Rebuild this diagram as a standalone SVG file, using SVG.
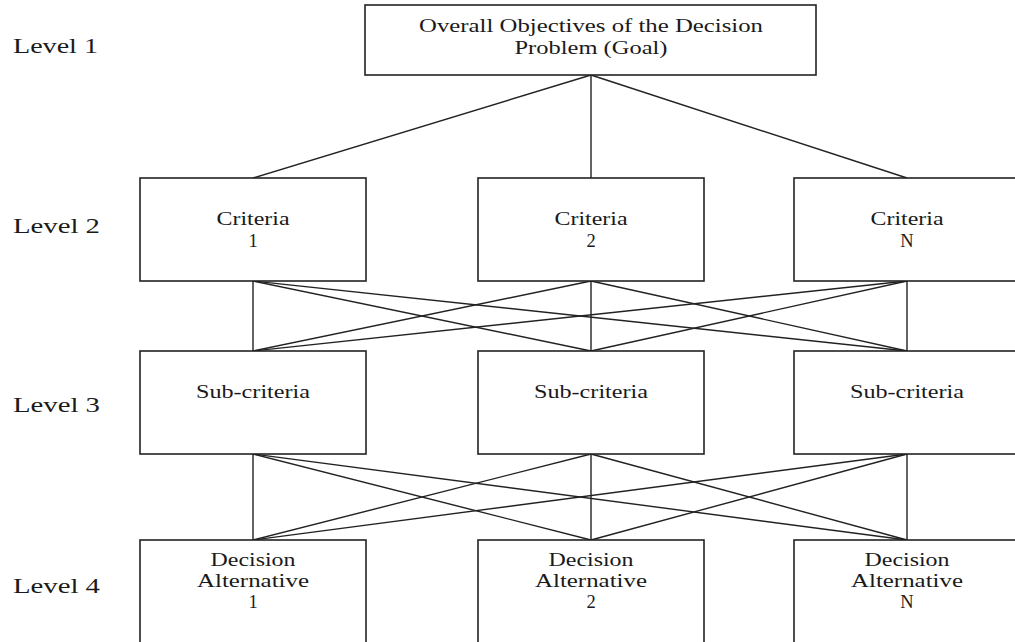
<svg xmlns="http://www.w3.org/2000/svg" width="1015" height="642" viewBox="0 0 1015 642">
<style>
.box{fill:#fff;stroke:#222;stroke-width:1.6}
.c line{stroke:#222;stroke-width:1.4}
text{font-family:"Liberation Serif","Times New Roman",serif;fill:#1a1a1a}
.n{font-size:18.5px;text-anchor:middle}
.lv{font-size:22px}
</style>
<rect width="1015" height="642" fill="#fff"/>
<g class="c" id="connectors">
<line x1="591" y1="75" x2="253" y2="178"/>
<line x1="591" y1="75" x2="591" y2="178"/>
<line x1="591" y1="75" x2="907" y2="178"/>
<line x1="253" y1="281" x2="253" y2="351"/>
<line x1="253" y1="281" x2="591" y2="351"/>
<line x1="253" y1="281" x2="907" y2="351"/>
<line x1="591" y1="281" x2="253" y2="351"/>
<line x1="591" y1="281" x2="591" y2="351"/>
<line x1="591" y1="281" x2="907" y2="351"/>
<line x1="907" y1="281" x2="253" y2="351"/>
<line x1="907" y1="281" x2="591" y2="351"/>
<line x1="907" y1="281" x2="907" y2="351"/>
<line x1="253" y1="454" x2="253" y2="540"/>
<line x1="253" y1="454" x2="591" y2="540"/>
<line x1="253" y1="454" x2="907" y2="540"/>
<line x1="591" y1="454" x2="253" y2="540"/>
<line x1="591" y1="454" x2="591" y2="540"/>
<line x1="591" y1="454" x2="907" y2="540"/>
<line x1="907" y1="454" x2="253" y2="540"/>
<line x1="907" y1="454" x2="591" y2="540"/>
<line x1="907" y1="454" x2="907" y2="540"/>
</g>
<g id="labels">
<text class="lv" x="13" y="53" textLength="85" lengthAdjust="spacingAndGlyphs">Level 1</text>
<text class="lv" x="13" y="233" textLength="87" lengthAdjust="spacingAndGlyphs">Level 2</text>
<text class="lv" x="13" y="412" textLength="87" lengthAdjust="spacingAndGlyphs">Level 3</text>
<text class="lv" x="13" y="593" textLength="87" lengthAdjust="spacingAndGlyphs">Level 4</text>
</g>
<g id="goal">
<rect class="box" x="365" y="5" width="451" height="70"/>
<text class="n" x="591" y="32" textLength="344" lengthAdjust="spacingAndGlyphs">Overall Objectives of the Decision</text>
<text class="n" x="591" y="54" textLength="153" lengthAdjust="spacingAndGlyphs">Problem (Goal)</text>
</g>
<g id="criteria1">
<rect class="box" x="140" y="178" width="226" height="103"/>
<text class="n" x="253" y="225" textLength="73" lengthAdjust="spacingAndGlyphs">Criteria</text>
<text class="n" x="253" y="247">1</text>
</g>
<g id="criteria2">
<rect class="box" x="478" y="178" width="226" height="103"/>
<text class="n" x="591" y="225" textLength="73" lengthAdjust="spacingAndGlyphs">Criteria</text>
<text class="n" x="591" y="247">2</text>
</g>
<g id="criteriaN">
<rect class="box" x="794" y="178" width="226" height="103"/>
<text class="n" x="907" y="225" textLength="73" lengthAdjust="spacingAndGlyphs">Criteria</text>
<text class="n" x="907" y="247">N</text>
</g>
<g id="sub1">
<rect class="box" x="140" y="351" width="226" height="103"/>
<text class="n" x="253" y="398" textLength="114" lengthAdjust="spacingAndGlyphs">Sub-criteria</text>
</g>
<g id="sub2">
<rect class="box" x="478" y="351" width="226" height="103"/>
<text class="n" x="591" y="398" textLength="114" lengthAdjust="spacingAndGlyphs">Sub-criteria</text>
</g>
<g id="subN">
<rect class="box" x="794" y="351" width="226" height="103"/>
<text class="n" x="907" y="398" textLength="114" lengthAdjust="spacingAndGlyphs">Sub-criteria</text>
</g>
<g id="alt1">
<rect class="box" x="140" y="540" width="226" height="110"/>
<text class="n" x="253" y="566" textLength="85" lengthAdjust="spacingAndGlyphs">Decision</text>
<text class="n" x="253" y="587" textLength="112" lengthAdjust="spacingAndGlyphs">Alternative</text>
<text class="n" x="253" y="608">1</text>
</g>
<g id="alt2">
<rect class="box" x="478" y="540" width="226" height="110"/>
<text class="n" x="591" y="566" textLength="85" lengthAdjust="spacingAndGlyphs">Decision</text>
<text class="n" x="591" y="587" textLength="112" lengthAdjust="spacingAndGlyphs">Alternative</text>
<text class="n" x="591" y="608">2</text>
</g>
<g id="altN">
<rect class="box" x="794" y="540" width="226" height="110"/>
<text class="n" x="907" y="566" textLength="85" lengthAdjust="spacingAndGlyphs">Decision</text>
<text class="n" x="907" y="587" textLength="112" lengthAdjust="spacingAndGlyphs">Alternative</text>
<text class="n" x="907" y="608">N</text>
</g>
</svg>
